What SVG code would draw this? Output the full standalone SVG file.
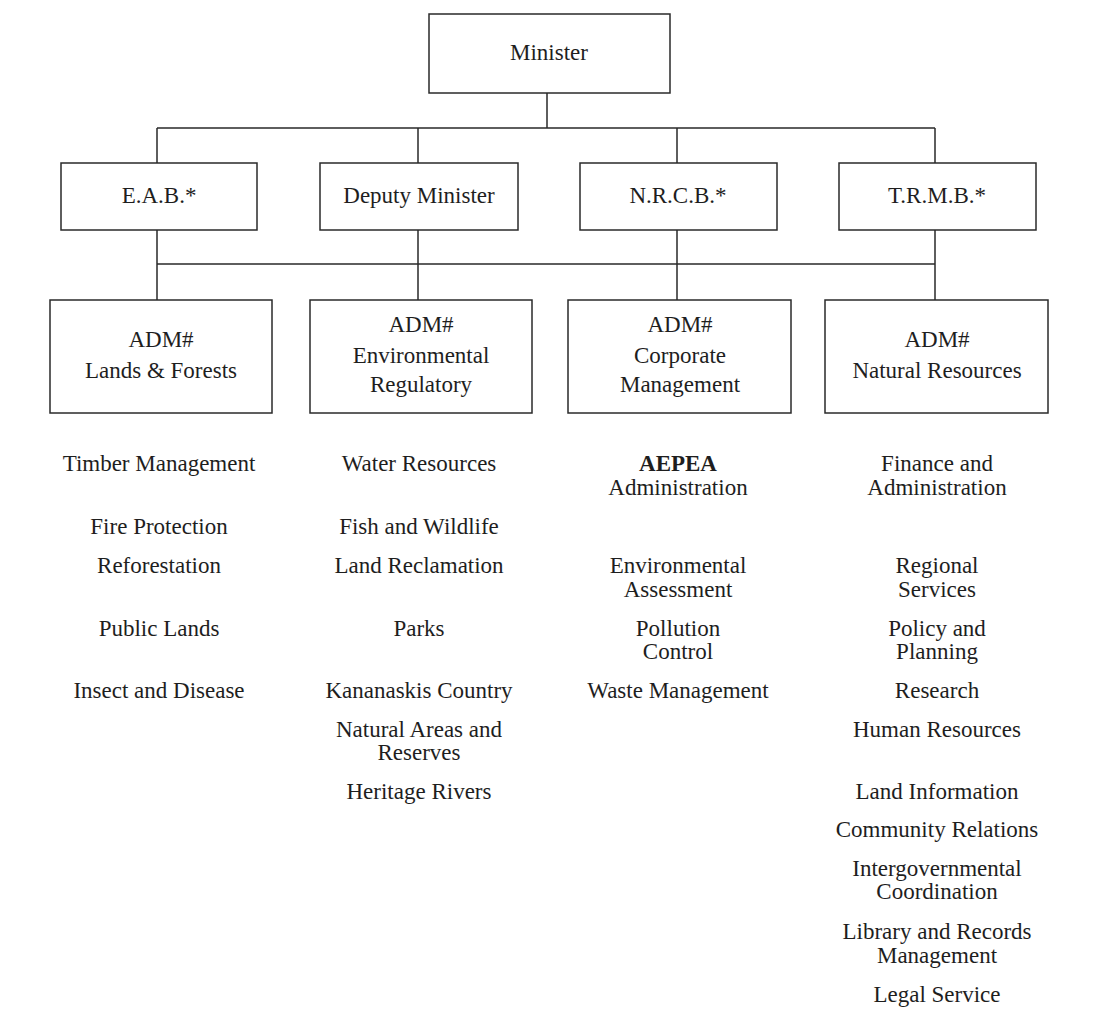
<svg xmlns="http://www.w3.org/2000/svg" width="1100" height="1020" viewBox="0 0 1100 1020">
<style>
.box{fill:#ffffff;stroke:#2a2a2a;stroke-width:1.5}
.ln{fill:none;stroke:#2a2a2a;stroke-width:1.5}
text{font-family:"Liberation Serif","Times New Roman",serif;font-size:23px;fill:#1e1e1e;text-anchor:middle}
.b{font-weight:bold}
</style>
<rect x="0" y="0" width="1100" height="1020" fill="#ffffff"/>
<g id="connectors">
<path class="ln" d="M547,93 V128 M157,128 H935 M157,128 V163 M418,128 V163 M677,128 V163 M935,128 V163"/>
<path class="ln" d="M157,264 H935 M157,230 V300 M418,230 V300 M677,230 V300 M935,230 V300"/>
</g>
<g id="minister"><rect class="box" x="429" y="14" width="241" height="79"/><text x="549" y="60">Minister</text></g>
<g id="eab"><rect class="box" x="61" y="163" width="196" height="67"/><text x="159" y="203">E.A.B.*</text></g>
<g id="deputy"><rect class="box" x="320" y="163" width="198" height="67"/><text x="419" y="203">Deputy Minister</text></g>
<g id="nrcb"><rect class="box" x="580" y="163" width="197" height="67"/><text x="678" y="203">N.R.C.B.*</text></g>
<g id="trmb"><rect class="box" x="839" y="163" width="197" height="67"/><text x="937" y="203">T.R.M.B.*</text></g>
<g id="adm-lands"><rect class="box" x="50" y="300" width="222" height="113"/><text x="161" y="347">ADM#</text><text x="161" y="378">Lands &amp; Forests</text></g>
<g id="adm-env"><rect class="box" x="310" y="300" width="222" height="113"/><text x="421" y="332">ADM#</text><text x="421" y="363">Environmental</text><text x="421" y="392">Regulatory</text></g>
<g id="adm-corp"><rect class="box" x="568" y="300" width="223" height="113"/><text x="680" y="332">ADM#</text><text x="680" y="363">Corporate</text><text x="680" y="392">Management</text></g>
<g id="adm-nat"><rect class="box" x="825" y="300" width="223" height="113"/><text x="937" y="347">ADM#</text><text x="937" y="378">Natural Resources</text></g>
<g id="list-lands">
<text x="159" y="471">Timber Management</text>
<text x="159" y="534">Fire Protection</text>
<text x="159" y="573">Reforestation</text>
<text x="159" y="636">Public Lands</text>
<text x="159" y="698">Insect and Disease</text>
</g>
<g id="list-env">
<text x="419" y="471">Water Resources</text>
<text x="419" y="534">Fish and Wildlife</text>
<text x="419" y="573">Land Reclamation</text>
<text x="419" y="636">Parks</text>
<text x="419" y="698">Kananaskis Country</text>
<text x="419" y="737">Natural Areas and</text>
<text x="419" y="760">Reserves</text>
<text x="419" y="799">Heritage Rivers</text>
</g>
<g id="list-corp">
<text x="678" y="471" class="b">AEPEA</text>
<text x="678" y="495">Administration</text>
<text x="678" y="573">Environmental</text>
<text x="678" y="597">Assessment</text>
<text x="678" y="636">Pollution</text>
<text x="678" y="659">Control</text>
<text x="678" y="698">Waste Management</text>
</g>
<g id="list-nat">
<text x="937" y="471">Finance and</text>
<text x="937" y="495">Administration</text>
<text x="937" y="573">Regional</text>
<text x="937" y="597">Services</text>
<text x="937" y="636">Policy and</text>
<text x="937" y="659">Planning</text>
<text x="937" y="698">Research</text>
<text x="937" y="737">Human Resources</text>
<text x="937" y="799">Land Information</text>
<text x="937" y="837">Community Relations</text>
<text x="937" y="876">Intergovernmental</text>
<text x="937" y="899">Coordination</text>
<text x="937" y="939">Library and Records</text>
<text x="937" y="963">Management</text>
<text x="937" y="1002">Legal Service</text>
</g>
</svg>
